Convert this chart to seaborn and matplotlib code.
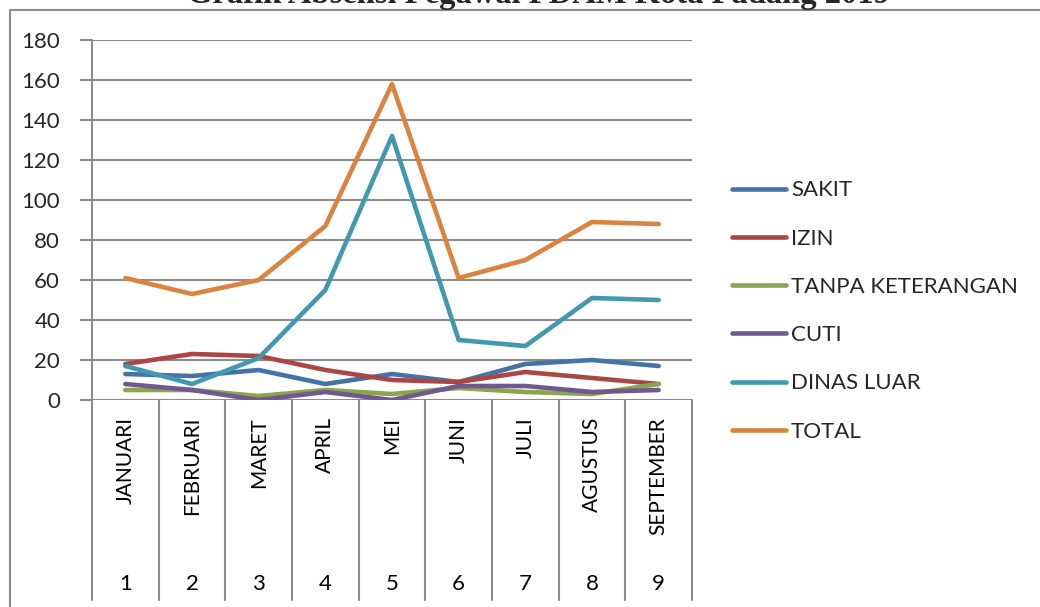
import numpy as np
import pandas as pd
import seaborn as sns
import matplotlib
matplotlib.use("Agg")
import matplotlib.pyplot as plt
from matplotlib.lines import Line2D

# ---- data ----
bulan = ["JANUARI", "FEBRUARI", "MARET", "APRIL", "MEI", "JUNI", "JULI", "AGUSTUS", "SEPTEMBER"]
nomor = [1, 2, 3, 4, 5, 6, 7, 8, 9]
sakit = [13, 12, 15, 8, 13, 9, 18, 20, 17]
izin = [18, 23, 22, 15, 10, 9, 14, 11, 8]
tanpa_keterangan = [5, 5, 2, 5, 3, 6, 4, 3, 8]
cuti = [8, 5, 0, 4, 0, 7, 7, 4, 5]
dinas_luar = [17, 8, 21, 55, 132, 30, 27, 51, 50]
total = [61, 53, 60, 87, 158, 61, 70, 89, 88]
series_names = ["SAKIT", "IZIN", "TANPA KETERANGAN", "CUTI", "DINAS LUAR", "TOTAL"]
y_ticks = [0, 20, 40, 60, 80, 100, 120, 140, 160, 180]
title = "Grafik Absensi Pegawai PDAM Kota Padang 2019"

colors = ["#4572A7", "#AA4643", "#89A54E", "#71588F", "#4198AF", "#DB843D"]

rows = []
for name, vals in zip(series_names, [sakit, izin, tanpa_keterangan, cuti, dinas_luar, total]):
    for n, b, v in zip(nomor, bulan, vals):
        rows.append({"no": n, "bulan": b, "nilai": v, "seri": name})
df = pd.DataFrame(rows)

sns.set_style("white")
plt.rcParams["font.family"] = ["Lato", "DejaVu Sans"]

W, H = 1040, 607
fig = plt.figure(figsize=(W / 100, H / 100), dpi=100)
L, R, T, B = 92, 692, 40, 400
ax = fig.add_axes([L / W, (H - B) / H, (R - L) / W, (B - T) / H])

grid_c = "#8C8C8C"
sns.lineplot(data=df, x="no", y="nilai", hue="seri", hue_order=series_names,
             palette=colors, linewidth=3.3, ax=ax, sort=False, legend=True)
for ln in ax.lines:
    ln.set_solid_joinstyle("round")
    ln.set_solid_capstyle("round")
    ln.set_zorder(3)

ax.set_xlim(0.5, 9.5)
ax.set_ylim(0, 180)
ax.set_yticks(y_ticks)
ax.set_yticklabels([str(v) for v in y_ticks], fontsize=16)
ax.yaxis.grid(True, color=grid_c, linewidth=1.5)
ax.set_axisbelow(True)
ax.tick_params(axis="y", length=9, width=1.5, color=grid_c, pad=14, left=True)
ax.set_xticks([])
ax.set_xlabel("")
ax.set_ylabel("")
for s in ["top", "right", "bottom", "left"]:
    ax.spines[s].set_visible(False)

# category separators (multi-level category axis)
ext = -200 / (B - T)
for xs in np.arange(0.5, 10.0, 1.0):
    ax.plot([xs, xs], [1.0 if xs == 0.5 else 0.0, ext], transform=ax.get_xaxis_transform(),
            color=grid_c, linewidth=1.5, clip_on=False, zorder=1)
for n, b in zip(nomor, bulan):
    ax.text(n, -17 / (B - T), b, transform=ax.get_xaxis_transform(), rotation=90,
            ha="center", va="top", fontsize=15, color="black")
    ax.text(n, -184 / (B - T), str(n), transform=ax.get_xaxis_transform(),
            ha="center", va="center", fontsize=16, color="black")

# legend
handles, labels = ax.get_legend_handles_labels()
ax.get_legend().remove()
for h in handles:
    h.set_linewidth(3.3)
    h.set_solid_capstyle("round")
leg = fig.legend(handles, labels, loc="center left",
                 bbox_to_anchor=(732 / W, (H - 311) / H), frameon=False,
                 fontsize=16, handlelength=2.45, handletextpad=0.2,
                 labelspacing=1.27, borderpad=0, borderaxespad=0)

# outer chart border
fig.add_artist(Line2D([10 / W, 10 / W, 1.0], [0.0, 1 - 10 / H, 1 - 10 / H],
                      transform=fig.transFigure, color="#8A8A8A", linewidth=1.5))

# title (cut off at top as in reference)
fig.text(538 / W, 1 - 3.5 / H, title, ha="center", va="baseline",
         fontfamily="Liberation Serif", fontweight="bold", fontsize=23.5)

fig.savefig("out.png", dpi=100)
